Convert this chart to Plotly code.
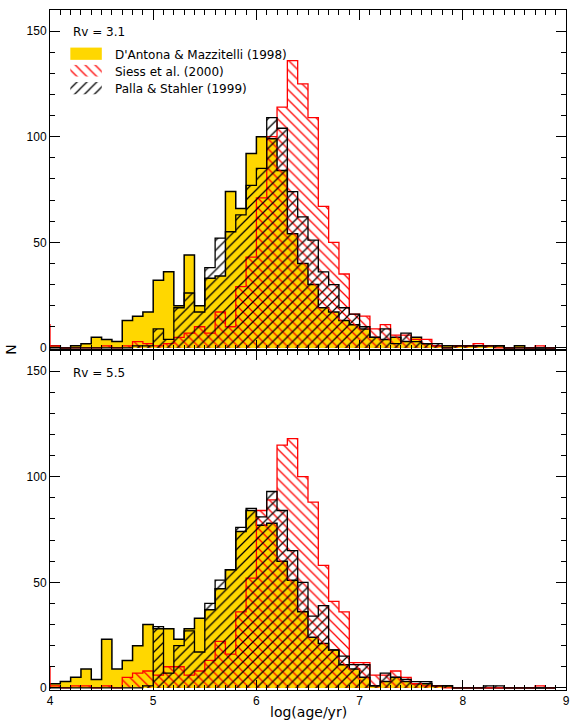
import plotly.graph_objects as go

# ---------------- data (histograms of log(age/yr), bin width 0.1) ----------------
bin_width = 0.1
bin_left = [round(3.9 + bin_width * i, 1) for i in range(50)]   # 3.9 ... 8.8

# Rv = 3.1
dantona_rv31 = [0,
                1, 0, 1, 2, 5, 4, 3, 13, 15, 17,
                32, 36, 20, 44, 20, 33, 34, 74, 66, 92,
                100, 99, 84, 54, 40, 30, 19, 17, 13, 11,
                9, 5, 4, 5, 3, 5, 2, 1, 1, 1,
                1, 1, 1, 1, 0, 1, 0, 0, 0]
palla_rv31 = [0,
              0, 0, 0, 0, 0, 0, 0, 0, 1, 1,
              9, 4, 19, 26, 17, 38, 52, 55, 63, 77,
              85, 109, 104, 74, 62, 51, 36, 30, 19, 16,
              10, 5, 9, 2, 7, 3, 2, 2, 0, 1,
              1, 1, 1, 1, 0, 0, 0, 0, 0]
siess_rv31 = [11,
              1, 0, 0, 0, 0, 1, 0, 1, 3, 2,
              1, 2, 5, 7, 10, 7, 17, 10, 29, 43,
              71, 100, 114, 136, 125, 109, 67, 50, 35, 16,
              15, 9, 11, 6, 6, 4, 4, 1, 0, 1,
              1, 2, 1, 0, 0, 0, 0, 1, 0]

# Rv = 5.5
dantona_rv55 = [0,
                2, 3, 5, 9, 4, 23, 9, 13, 20, 30,
                28, 28, 23, 28, 33, 37, 47, 56, 74, 84,
                77, 78, 60, 51, 36, 24, 21, 18, 11, 9,
                5, 1, 3, 5, 3, 2, 2, 1, 1, 0,
                0, 0, 0, 0, 0, 0, 0, 0, 0]
palla_rv55 = [0,
              0, 0, 0, 0, 0, 0, 0, 0, 0, 1,
              29, 7, 20, 27, 17, 40, 51, 56, 76, 85,
              81, 93, 84, 65, 50, 34, 39, 18, 15, 11,
              11, 1, 7, 5, 4, 3, 3, 1, 1, 0,
              0, 0, 1, 1, 0, 0, 0, 0, 0]
siess_rv55 = [10,
              1, 0, 1, 1, 0, 1, 0, 5, 7, 8,
              6, 10, 10, 6, 8, 13, 22, 16, 36, 52,
              84, 89, 115, 118, 100, 88, 58, 41, 36, 12,
              12, 6, 6, 8, 5, 2, 1, 1, 0, 0,
              0, 0, 0, 0, 0, 0, 0, 1, 0]

x_ticks = [4, 5, 6, 7, 8, 9]
y_ticks = [0, 50, 100, 150]
legend_labels = ["D'Antona & Mazzitelli (1998)", "Siess et al. (2000)", "Palla & Stahler (1999)"]
panel_labels = ["Rv = 3.1", "Rv = 5.5"]

GOLD = "#FFD700"
RED = "#FF0000"
FONT = "Liberation Sans, Arial, sans-serif"
TFONT = "DejaVu Sans, sans-serif"


def step_xy(vals):
    xs = [bin_left[0]] + list(bin_left) + [bin_left[-1] + bin_width] * 2
    ys = [0] + list(vals) + [vals[-1], 0]
    return xs, ys


fig = go.Figure()

panels = [("x", "y", dantona_rv31, palla_rv31, siess_rv31),
          ("x2", "y2", dantona_rv55, palla_rv55, siess_rv55)]

for xa, ya, da, pa, si in panels:
    xs, ys = step_xy(da)
    fig.add_trace(go.Scatter(x=xs, y=ys, xaxis=xa, yaxis=ya, mode="lines",
                             line=dict(color="black", width=1.5, shape="hv"),
                             fill="tozeroy", fillcolor=GOLD, showlegend=False,
                             hoverinfo="skip"))
    xs, ys = step_xy(si)
    fig.add_trace(go.Scatter(x=xs, y=ys, xaxis=xa, yaxis=ya, mode="lines",
                             line=dict(color=RED, width=1.3, shape="hv"),
                             fill="tozeroy", fillcolor="rgba(0,0,0,0)",
                             fillpattern=dict(shape="\\", fgcolor=RED, bgcolor="rgba(0,0,0,0)",
                                              size=7, solidity=0.18, fillmode="replace"),
                             showlegend=False, hoverinfo="skip"))
    xs, ys = step_xy(pa)
    fig.add_trace(go.Scatter(x=xs, y=ys, xaxis=xa, yaxis=ya, mode="lines",
                             line=dict(color="black", width=1.3, shape="hv"),
                             fill="tozeroy", fillcolor="rgba(0,0,0,0)",
                             fillpattern=dict(shape="/", fgcolor="black", bgcolor="rgba(0,0,0,0)",
                                              size=7, solidity=0.18, fillmode="replace"),
                             showlegend=False, hoverinfo="skip"))

# ---- legend keys (drawn in top panel data space) ----
key_x = [4.197, 4.502]
key_rows = [(136.4, 142.2), (128.5, 134.0), (120.1, 125.9)]
key_styles = [
    dict(fillcolor=GOLD, line=dict(width=0)),
    dict(fillcolor="rgba(0,0,0,0)", line=dict(width=0),
         fillpattern=dict(shape="\\", fgcolor=RED, bgcolor="rgba(0,0,0,0)", size=7, solidity=0.18,
                          fillmode="replace")),
    dict(fillcolor="rgba(0,0,0,0)", line=dict(width=0),
         fillpattern=dict(shape="/", fgcolor="black", bgcolor="rgba(0,0,0,0)", size=7, solidity=0.18,
                          fillmode="replace")),
]
for (y0, y1), st in zip(key_rows, key_styles):
    fig.add_trace(go.Scatter(x=[key_x[0], key_x[1], key_x[1], key_x[0], key_x[0]],
                             y=[y0, y0, y1, y1, y0], xaxis="x", yaxis="y",
                             mode="lines", fill="toself", showlegend=False, hoverinfo="skip", **st))

annotations = []
legend_y = [0.9343, 0.9093, 0.8831]
for lab, yy in zip(legend_labels, legend_y):
    annotations.append(dict(text=lab, x=0.1215, y=yy, xref="paper", yref="paper",
                            xanchor="left", yanchor="middle", showarrow=False,
                            font=dict(family=TFONT, size=12, color="black")))
for lab, yy in zip(panel_labels, [0.968, 0.4666]):
    annotations.append(dict(text=lab, x=0.0408, y=yy, xref="paper", yref="paper",
                            xanchor="left", yanchor="middle", showarrow=False,
                            font=dict(family=TFONT, size=12, color="black")))
annotations.append(dict(text="log(age/yr)", x=0.501, y=-0.0324, xref="paper", yref="paper",
                        xanchor="center", yanchor="middle", showarrow=False,
                        font=dict(family=TFONT, size=14, color="black")))
annotations.append(dict(text="N", x=-0.076, y=0.5, xref="paper", yref="paper",
                        xanchor="center", yanchor="middle", showarrow=False, textangle=-90,
                        font=dict(family=TFONT, size=14, color="black")))

common_x = dict(range=[4, 9], tickvals=x_ticks, ticks="inside", ticklen=10, tickwidth=1,
                tickcolor="black", mirror="allticks", showline=True, linecolor="black",
                linewidth=1, showgrid=False, zeroline=False, ticklabeloverflow="allow",
                minor=dict(ticks="inside", dtick=0.1, tick0=4, ticklen=5, tickcolor="black",
                           tickwidth=1, showgrid=False),
                tickfont=dict(family=FONT, size=12, color="black"))
common_y = dict(range=[-1, 160], tickvals=y_ticks, ticks="inside", ticklen=10, tickwidth=1,
                tickcolor="black", mirror="allticks", showline=True, linecolor="black",
                linewidth=1, showgrid=False, zeroline=False,
                minor=dict(ticks="inside", dtick=10, tick0=0, ticklen=5, tickcolor="black",
                           tickwidth=1, showgrid=False),
                tickfont=dict(family=FONT, size=12, color="black"))

fig.update_layout(
    width=573, height=722,
    margin=dict(l=50, r=3, t=10, b=32),
    paper_bgcolor="white", plot_bgcolor="white",
    showlegend=False,
    xaxis=dict(domain=[0, 1], anchor="y", showticklabels=False, **common_x),
    yaxis=dict(domain=[0.5, 1], anchor="x", **common_y),
    xaxis2=dict(domain=[0, 1], anchor="y2", showticklabels=True, **common_x),
    yaxis2=dict(domain=[0, 0.5], anchor="x2", **common_y),
    annotations=annotations,
)

fig.write_html("out.html")
